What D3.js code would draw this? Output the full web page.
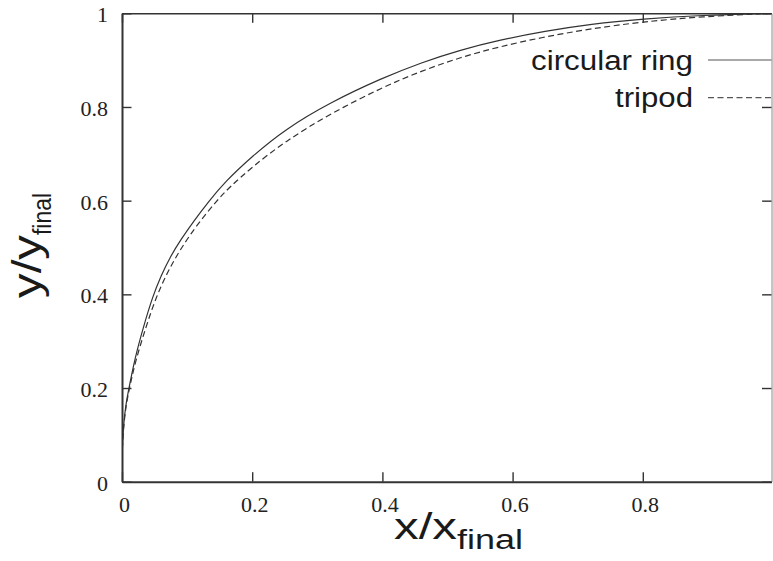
<!DOCTYPE html>
<html>
<head>
<meta charset="utf-8">
<script src="https://cdn.jsdelivr.net/npm/d3@7"></script>
<style>
  body { margin: 0; background: #fff; }
  svg { display: block; }
  .tick text { font-family: "Liberation Serif", "Times New Roman", serif; font-size: 22px; fill: #222; }
  .tick line { stroke: #333; stroke-width: 1.4; }
  .lbl { font-family: "Liberation Sans", Arial, sans-serif; fill: #1a1a1a; }
</style>
</head>
<body>
<svg id="chart"></svg>
<script>
  // circular ring curve
  var ringX = [0, 0.001, 0.003, 0.006, 0.01, 0.02, 0.033, 0.047, 0.06, 0.074, 0.09, 0.11, 0.133, 0.158,
    0.2, 0.25, 0.32, 0.4, 0.46, 0.52, 0.58, 0.65, 0.72, 0.8, 0.89, 0.998];
  var ringY = [0.05, 0.09, 0.13, 0.165, 0.195, 0.265, 0.331, 0.395, 0.44, 0.48, 0.516, 0.556, 0.598, 0.640,
    0.695, 0.752, 0.810, 0.862, 0.895, 0.922, 0.943, 0.962, 0.977, 0.988, 0.996, 1.0];

  // tripod curve
  var tripodX = [0, 0.001, 0.003, 0.006, 0.01, 0.02, 0.037, 0.052, 0.07, 0.09, 0.115, 0.1455, 0.166,
    0.2, 0.25, 0.32, 0.4, 0.46, 0.52, 0.58, 0.65, 0.72, 0.8, 0.89, 0.998];
  var tripodY = [0.05, 0.085, 0.125, 0.16, 0.19, 0.255, 0.331, 0.393, 0.448, 0.497, 0.548, 0.60, 0.630,
    0.672, 0.726, 0.786, 0.842, 0.877, 0.906, 0.929, 0.950, 0.967, 0.982, 0.993, 1.0];

  var xTicks = [0, 0.2, 0.4, 0.6, 0.8];
  var yTicks = [0, 0.2, 0.4, 0.6, 0.8, 1];

  var width = 773, height = 561;
  var margin = { left: 122, top: 13.3, right: 1.5, bottom: 79.3 };
  var innerW = width - margin.left - margin.right;
  var innerH = height - margin.top - margin.bottom;
  var tickLen = 9.5;

  var svg = d3.select('#chart').attr('width', width).attr('height', height);

  var g = svg.append('g')
    .attr('transform', 'translate(' + margin.left + ',' + margin.top + ')');

  var x = d3.scaleLinear().domain([0, 0.9977]).range([0, innerW]);
  var y = d3.scaleLinear().domain([0, 1]).range([innerH, 0]);

  /* clip for the curves */
  svg.append('defs').append('clipPath').attr('id', 'plot-clip')
    .append('rect').attr('width', innerW).attr('height', innerH);

  /* axes: ticks point inwards, mirrored on top and right */
  var fmt = function(d) { return d === 0 ? '0' : d3.format('.1f')(d).replace(/\.0$/, ''); };

  var gx = g.append('g')
    .attr('transform', 'translate(0,' + innerH + ')')
    .call(d3.axisBottom(x).tickValues(xTicks).tickSizeInner(-tickLen).tickSizeOuter(0)
      .tickPadding(14.5).tickFormat(fmt));
  gx.selectAll('.tick text').attr('dx', 2);

  var gy = g.append('g')
    .call(d3.axisLeft(y).tickValues(yTicks).tickSizeInner(-tickLen).tickSizeOuter(0)
      .tickPadding(14).tickFormat(fmt));
  gy.selectAll('.tick text').attr('dy', '0.38em');

  var gTop = g.append('g')
    .call(d3.axisTop(x).tickValues(xTicks).tickSizeInner(-tickLen).tickSizeOuter(0).tickFormat(''));
  var gRight = g.append('g')
    .attr('transform', 'translate(' + innerW + ',0)')
    .call(d3.axisRight(y).tickValues(yTicks).tickSizeInner(-tickLen).tickSizeOuter(0).tickFormat(''));

  gx.select('.domain').attr('stroke', '#333').attr('stroke-width', 2);
  gy.select('.domain').attr('stroke', '#333').attr('stroke-width', 2);
  gTop.select('.domain').attr('stroke', '#333').attr('stroke-width', 1.5);
  gRight.select('.domain').attr('stroke', '#8a8a8a').attr('stroke-width', 1);

  /* curves, smoothed through the read points */
  var line = d3.line()
    .x(function(d) { return x(d[0]); })
    .y(function(d) { return y(d[1]); })
    .curve(d3.curveBasis);

  var ring = d3.zip(ringX, ringY);
  var tripod = d3.zip(tripodX, tripodY);

  var curves = g.append('g').attr('clip-path', 'url(#plot-clip)');
  curves.append('path').datum(ring)
    .attr('d', line).attr('fill', 'none')
    .attr('stroke', '#333').attr('stroke-width', 1.2);
  curves.append('path').datum(tripod)
    .attr('d', line).attr('fill', 'none')
    .attr('stroke', '#333').attr('stroke-width', 1.2)
    .attr('stroke-dasharray', '6,3.5');

  /* legend */
  var legend = [
    { name: 'circular ring', dash: null, y: 60, len: 162 },
    { name: 'tripod', dash: '6,3.5', y: 97.7, len: 78 }
  ];
  legend.forEach(function(d) {
    svg.append('line')
      .attr('x1', 708).attr('x2', 771.5)
      .attr('y1', d.y).attr('y2', d.y)
      .attr('stroke', '#555').attr('stroke-width', 1.2)
      .attr('stroke-dasharray', d.dash);
    svg.append('text').attr('class', 'lbl')
      .attr('x', 693).attr('y', d.y + 9.5)
      .attr('text-anchor', 'end')
      .attr('font-size', 27)
      .attr('textLength', d.len)
      .attr('lengthAdjust', 'spacingAndGlyphs')
      .text(d.name);
  });

  /* axis labels */
  var xl = svg.append('text').attr('class', 'lbl')
    .attr('x', 394).attr('y', 539);
  xl.append('tspan').attr('font-size', 37)
    .attr('textLength', 63).attr('lengthAdjust', 'spacingAndGlyphs').text('x/x');
  xl.append('tspan').attr('font-size', 27).attr('dy', 10)
    .attr('textLength', 66).attr('lengthAdjust', 'spacingAndGlyphs').text('final');

  var yl = svg.append('text').attr('class', 'lbl')
    .attr('transform', 'translate(40.7,298) rotate(-90)');
  yl.append('tspan').attr('font-size', 40)
    .attr('textLength', 63).attr('lengthAdjust', 'spacingAndGlyphs').text('y/y');
  yl.append('tspan').attr('font-size', 26).attr('dy', 10)
    .attr('textLength', 42).attr('lengthAdjust', 'spacingAndGlyphs').text('final');
</script>
</body>
</html>
